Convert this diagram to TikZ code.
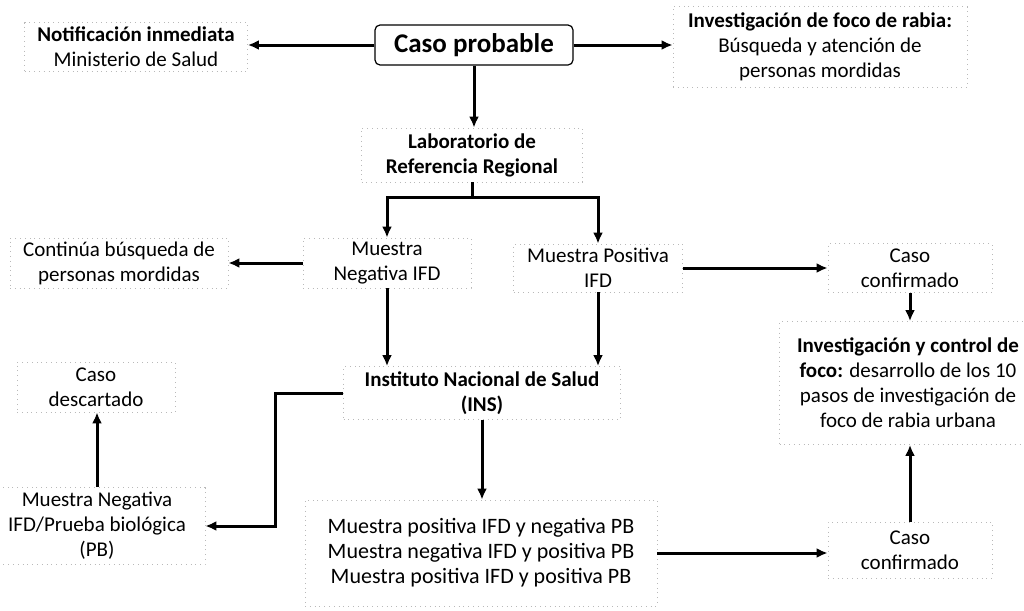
\documentclass[tikz,border=0pt]{standalone}
\usepackage{fontspec}
\setmainfont{Carlito}
\usetikzlibrary{arrows.meta}
\usetikzlibrary{positioning}

\begin{document}
\begin{tikzpicture}[x=0.5pt,y=-0.5pt,
  caja/.style={draw=gray!55, dotted, align=center, inner sep=0pt,
    font=\fontsize{10.5}{12.5}\selectfont},
  flecha/.style={line width=1.5pt, -{Latex[length=5.5pt,width=5pt]}}]

\useasboundingbox (0,0) rectangle (1024,611);

\node[draw, rounded corners=2.5pt, line width=0.6pt, minimum width=99pt, minimum height=20pt,
  font=\fontsize{13.5}{16}\selectfont\bfseries] (caso) at (474,45) {Caso probable};
\node[caja, minimum width=111.5pt, minimum height=24.5pt] (notif) at (136,47)
  {\textbf{Notificación inmediata}\\Ministerio de Salud};
\node[caja, minimum width=147pt, minimum height=40.5pt] (invfoco) at (820,47)
  {\textbf{Investigación de foco de rabia:}\\Búsqueda y atención de\\personas mordidas};
\node[caja, minimum width=110.5pt, minimum height=27pt, font=\fontsize{10.5}{12.5}\selectfont\bfseries] (lab) at (472,155)
  {Laboratorio de\\Referencia Regional};
\node[caja, minimum width=84pt, minimum height=25pt] (mneg) at (387,263) {Muestra\\Negativa IFD};
\node[caja, minimum width=84.5pt, minimum height=24pt] (mpos) at (598,268) {Muestra Positiva\\IFD};
\node[caja, minimum width=109pt, minimum height=25pt] (continua) at (119,263)
  {Continúa búsqueda de\\personas mordidas};
\node[caja, minimum width=82pt, minimum height=24.5pt] (conf1) at (910,268) {Caso\\confirmado};
\node[caja, minimum width=128.5pt, minimum height=61.5pt] (invctl) at (908,383)
  {\textbf{Investigación y control de}\\\textbf{foco:} desarrollo de los 10\\pasos de investigación de\\foco de rabia urbana};
\node[caja, minimum width=138.5pt, minimum height=26.5pt, font=\fontsize{10.5}{12.5}\selectfont\bfseries] (ins) at (482,393)
  {Instituto Nacional de Salud\\(INS)};
\node[caja, minimum width=79pt, minimum height=25pt] (descart) at (96,387) {Caso\\descartado};
\node[caja, minimum width=108pt, minimum height=38.5pt] (mnpb) at (97,526)
  {Muestra Negativa\\IFD/Prueba biológica\\(PB)};
\node[caja, minimum width=176pt, minimum height=53pt, font=\fontsize{11}{12.5}\selectfont] (res) at (481,553)
  {Muestra positiva IFD y negativa PB\\Muestra negativa IFD y positiva PB\\Muestra positiva IFD y positiva PB};
\node[caja, minimum width=82pt, minimum height=28pt] (conf2) at (910,550) {Caso\\confirmado};

\draw[flecha] (caso.west) -- (caso.west -| notif.east);
\draw[flecha] (caso.east) -- (caso.east -| invfoco.west);
\draw[flecha] (caso.south) -- (caso.south |- lab.north);
\draw[line width=1.5pt] (lab.south) -- ++(0,15) coordinate (split);
\draw[flecha] (split) -| (mneg.north);
\draw[flecha] (split) -| (mpos.north);
\draw[flecha] (mneg.west) -- (mneg.west -| continua.east);
\draw[flecha] (mneg.south) -- (mneg.south |- ins.north);
\draw[flecha] (mpos.south) -- (mpos.south |- ins.north);
\draw[flecha] (mpos.east) -- (mpos.east -| conf1.west);
\draw[flecha] (conf1.south) -- (conf1.south |- invctl.north);
\draw[flecha] (ins.south) -- (ins.south |- res.north);
\draw[flecha] (ins.west) -- ++(-68,0) |- (mnpb.east);
\draw[flecha] (mnpb.north) -- (mnpb.north |- descart.south);
\draw[flecha] (res.east) -- (res.east -| conf2.west);
\draw[flecha] (conf2.north) -- (conf2.north |- invctl.south);

\end{tikzpicture}
\end{document}
